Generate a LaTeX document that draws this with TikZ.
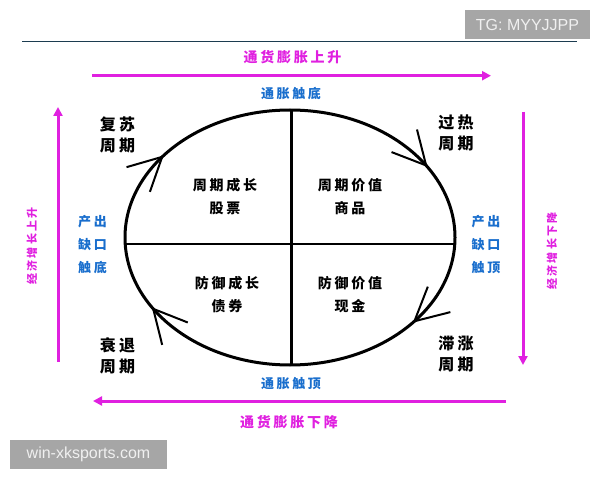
\documentclass[tikz,border=0pt]{standalone}
\usepackage{fontspec}
\newfontfamily\cjk[LetterSpace=20]{Noto Sans CJK SC}
\newfontfamily\wmfont{Liberation Sans}
\usepackage{xcolor}
\usetikzlibrary{arrows.meta, decorations.markings}

\definecolor{inflpink}{RGB}{224,32,224}
\definecolor{gapblue}{RGB}{25,110,205}
\definecolor{rulecol}{RGB}{28,60,80}
\definecolor{wmgrey}{RGB}{166,166,166}

\begin{document}
\begin{tikzpicture}[
    x=1pt, y=1pt,
    phase/.style={font=\cjk\bfseries\fontsize{16}{21}\selectfont, align=center, inner sep=0pt},
    asset/.style={font=\cjk\bfseries\fontsize{14}{23}\selectfont, align=center, inner sep=0pt},
    gap/.style={font=\cjk\bfseries\fontsize{13}{23}\selectfont, text=gapblue, align=center, inner sep=0pt},
    trend/.style={font=\cjk\bfseries\fontsize{14}{17}\selectfont, text=inflpink, inner sep=0pt},
    growth/.style={font=\cjk\bfseries\fontsize{11}{13}\selectfont, text=inflpink, inner sep=0pt, rotate=90},
    arrow/.style={-{Triangle[length=9pt, width=9pt]}, draw=inflpink, line width=3pt},
    chevron/.style={line width=2pt},
    watermark/.style={fill=wmgrey, text=white!94!black, font=\wmfont\fontsize{16}{16}\selectfont, inner sep=0pt, minimum height=29pt}
]
\useasboundingbox (0,0) rectangle (600,480);

\node (tg) [watermark, minimum width=125pt] at (527.5,455.5) {TG: MYYJJPP};
\node (site) [watermark, minimum width=157pt] at (88.5,25.5) {win-xksports.com};
\draw [rulecol, line width=1pt] (22,438.5) -- (577,438.5);

\node (up) [trend] at (292.5,423.3) {通货膨胀上升};
\node (down) [trend] at (289,58) {通货膨胀下降};
\node (low) [gap] at (291,386) {通胀触底};
\node (high) [gap] at (291,96) {通胀触顶};
\node (gaplow) [gap] at (92.5,235) {产出\\缺口\\触底};
\node (gaphigh) [gap] at (486,235) {产出\\缺口\\触顶};
\node (grow) [growth] at (32,234) {经济增长上升};
\node (slow) [growth] at (552,229) {经济增长下降};

\coordinate (upL) at (92,404.3);
\coordinate (upR) at (491,404.3);
\coordinate (dnR) at (506,79);
\coordinate (dnL) at (93,79);
\coordinate (leftB) at (58,118);
\coordinate (leftT) at (58,373);
\coordinate (rightT) at (523,368);
\coordinate (rightB) at (523,115);
\draw [arrow] (upL) -- (upR);
\draw [arrow] (dnR) -- (dnL);
\draw [arrow] (leftB) -- (leftT);
\draw [arrow] (rightT) -- (rightB);

\draw [line width=3pt, postaction={decorate}, decoration={markings,
    mark=at position 0.104 with {\draw [chevron] (-33,17) -- (0,0) -- (-33,-17);},
    mark=at position 0.415 with {\draw [chevron] (-33,17) -- (0,0) -- (-33,-17);},
    mark=at position 0.599 with {\draw [chevron] (-33,17) -- (0,0) -- (-33,-17);},
    mark=at position 0.914 with {\draw [chevron] (-33,17) -- (0,0) -- (-33,-17);}}]
    (455,242.5) arc[start angle=0, end angle=-360, x radius=165pt, y radius=127.5pt] -- cycle;
\coordinate (top) at (291.5,370);
\coordinate (bottom) at (291.5,115);
\coordinate (west) at (125,236);
\coordinate (east) at (455,236);
\draw [line width=2.5pt] (top) -- (bottom);
\draw [line width=2.5pt] (west) -- (east);

\node (stocks) [asset] at (225,283.5) {周期成长\\股票};
\node (goods) [asset] at (350,283.5) {周期价值\\商品};
\node (bonds) [asset] at (227,185) {防御成长\\债券};
\node (cash) [asset] at (350,185) {防御价值\\现金};

\node (recovery) [phase] at (117.5,345) {复苏\\周期};
\node (overheat) [phase] at (456,347.5) {过热\\周期};
\node (recession) [phase] at (117.5,124) {衰退\\周期};
\node (stagflation) [phase] at (456,126) {滞涨\\周期};

\end{tikzpicture}
\end{document}
